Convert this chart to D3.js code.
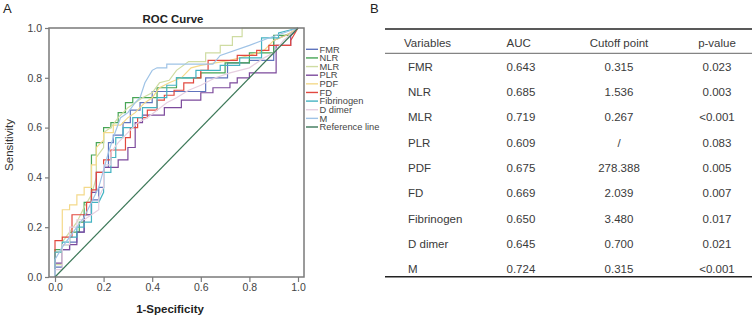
<!DOCTYPE html>
<html>
<head>
<meta charset="utf-8">
<script src="https://cdn.jsdelivr.net/npm/d3@7"></script>
<style>
  html, body { margin: 0; padding: 0; background: #fff; }
  svg { display: block; }
</style>
</head>
<body>
<svg id="roc-figure" width="753" height="318"></svg>
<script>
// ROC curves: [1-specificity, sensitivity] vertices
const fmrRoc = [[0,0],[0,0.04],[0.03,0.04],[0.03,0.11],[0.06,0.11],[0.06,0.14],[0.09,0.14],[0.09,0.18],[0.12,0.18],[0.12,0.25],[0.15,0.25],[0.15,0.31],[0.18,0.31],[0.18,0.36],[0.2,0.36],[0.2,0.44],[0.22,0.44],[0.22,0.54],[0.24,0.54],[0.24,0.57],[0.28,0.57],[0.28,0.62],[0.31,0.62],[0.31,0.67],[0.35,0.67],[0.35,0.7],[0.4,0.7],[0.4,0.745],[0.62,0.745],[0.62,0.8],[0.71,0.8],[0.71,0.86],[0.8,0.86],[0.8,0.87],[0.9,0.87],[0.9,0.95],[0.97,0.98],[1,1]];
const nlrRoc = [[0,0],[0,0.11],[0.03,0.11],[0.03,0.13],[0.06,0.13],[0.06,0.18],[0.1,0.18],[0.1,0.22],[0.12,0.22],[0.12,0.3],[0.15,0.3],[0.15,0.49],[0.17,0.49],[0.17,0.54],[0.2,0.54],[0.2,0.6],[0.23,0.6],[0.23,0.62],[0.26,0.62],[0.26,0.66],[0.29,0.66],[0.29,0.7],[0.32,0.7],[0.32,0.72],[0.42,0.72],[0.42,0.76],[0.5,0.76],[0.5,0.8],[0.6,0.8],[0.6,0.82],[0.7,0.82],[0.7,0.86],[0.8,0.86],[0.8,0.9],[0.9,0.9],[0.9,0.97],[0.97,0.97],[1,1]];
const mlrRoc = [[0,0],[0,0.05],[0.03,0.05],[0.03,0.14],[0.06,0.18],[0.09,0.22],[0.12,0.28],[0.15,0.33],[0.17,0.4],[0.17,0.48],[0.2,0.52],[0.2,0.58],[0.23,0.6],[0.26,0.64],[0.3,0.68],[0.33,0.7],[0.36,0.72],[0.4,0.74],[0.43,0.78],[0.47,0.79],[0.5,0.83],[0.55,0.865],[0.62,0.865],[0.62,0.9],[0.68,0.9],[0.68,0.93],[0.73,0.93],[0.73,0.965],[0.77,0.965],[0.77,1],[1,1]];
const plrRoc = [[0,0],[0,0.056],[0.03,0.056],[0.03,0.11],[0.06,0.11],[0.06,0.13],[0.09,0.13],[0.09,0.18],[0.12,0.18],[0.12,0.25],[0.15,0.25],[0.15,0.34],[0.17,0.34],[0.17,0.42],[0.2,0.42],[0.2,0.44],[0.26,0.44],[0.26,0.47],[0.3,0.47],[0.3,0.52],[0.33,0.52],[0.33,0.62],[0.36,0.62],[0.36,0.65],[0.45,0.65],[0.45,0.68],[0.52,0.68],[0.52,0.71],[0.6,0.71],[0.6,0.74],[0.65,0.74],[0.65,0.76],[0.72,0.76],[0.72,0.78],[0.75,0.78],[0.75,0.8],[0.8,0.8],[0.8,0.82],[0.91,0.82],[0.91,0.93],[0.97,0.93],[0.97,0.97],[1,1]];
const pdfRoc = [[0,0],[0,0.1],[0.03,0.1],[0.03,0.27],[0.06,0.27],[0.06,0.29],[0.09,0.29],[0.09,0.33],[0.12,0.33],[0.12,0.36],[0.15,0.36],[0.15,0.45],[0.17,0.45],[0.17,0.52],[0.2,0.55],[0.2,0.58],[0.24,0.58],[0.24,0.61],[0.27,0.61],[0.3,0.64],[0.33,0.66],[0.37,0.7],[0.4,0.72],[0.43,0.76],[0.47,0.78],[0.52,0.8],[0.56,0.84],[0.6,0.85],[0.66,0.86],[0.72,0.87],[0.8,0.89],[0.86,0.91],[0.9,0.95],[0.95,0.97],[1,1]];
const fdRoc = [[0,0],[0,0.146],[0.03,0.146],[0.03,0.16],[0.07,0.16],[0.07,0.25],[0.13,0.25],[0.13,0.3],[0.15,0.3],[0.15,0.35],[0.17,0.35],[0.17,0.42],[0.2,0.42],[0.2,0.47],[0.23,0.47],[0.23,0.51],[0.29,0.51],[0.29,0.56],[0.31,0.56],[0.31,0.6],[0.34,0.6],[0.34,0.64],[0.38,0.64],[0.38,0.67],[0.42,0.67],[0.42,0.71],[0.45,0.71],[0.45,0.73],[0.49,0.73],[0.49,0.75],[0.53,0.75],[0.53,0.78],[0.57,0.78],[0.57,0.8],[0.6,0.8],[0.6,0.83],[0.63,0.83],[0.63,0.87],[0.75,0.87],[0.75,0.89],[0.83,0.89],[0.83,0.91],[0.88,0.91],[0.88,0.93],[0.97,0.93],[0.97,0.95],[1,1]];
const fibrinogenRoc = [[0,0],[0,0.1],[0.03,0.1],[0.03,0.14],[0.06,0.14],[0.06,0.16],[0.09,0.16],[0.09,0.2],[0.12,0.2],[0.12,0.22],[0.15,0.22],[0.15,0.3],[0.18,0.3],[0.2,0.34],[0.2,0.42],[0.23,0.42],[0.23,0.48],[0.25,0.48],[0.25,0.56],[0.28,0.56],[0.28,0.6],[0.32,0.6],[0.32,0.64],[0.36,0.64],[0.36,0.68],[0.42,0.68],[0.42,0.72],[0.46,0.72],[0.46,0.77],[0.5,0.77],[0.5,0.8],[0.58,0.8],[0.58,0.83],[0.68,0.83],[0.68,0.85],[0.76,0.85],[0.76,0.88],[0.85,0.88],[0.85,0.96],[0.92,0.96],[0.92,0.98],[1,1]];
const dDimerRoc = [[0,0],[0,0.03],[0.03,0.03],[0.03,0.13],[0.06,0.13],[0.06,0.2],[0.09,0.2],[0.09,0.23],[0.12,0.23],[0.15,0.25],[0.18,0.27],[0.18,0.32],[0.2,0.36],[0.2,0.45],[0.23,0.45],[0.23,0.5],[0.26,0.54],[0.3,0.58],[0.34,0.62],[0.38,0.64],[0.42,0.67],[0.46,0.7],[0.5,0.72],[0.55,0.75],[0.6,0.77],[0.66,0.8],[0.72,0.82],[0.8,0.84],[0.86,0.88],[0.9,0.9],[0.94,0.95],[1,1]];
const mRoc = [[0,0],[0,0.07],[0.03,0.12],[0.06,0.16],[0.09,0.2],[0.12,0.24],[0.15,0.3],[0.18,0.36],[0.2,0.43],[0.22,0.5],[0.24,0.56],[0.27,0.64],[0.3,0.66],[0.33,0.7],[0.35,0.72],[0.37,0.78],[0.4,0.83],[0.42,0.84],[0.46,0.84],[0.46,0.855],[0.65,0.855],[0.68,0.89],[0.8,0.93],[0.88,0.96],[1,1]];
const referenceRoc = [[0,0],[1,1]];

const legendNames = ["FMR", "NLR", "MLR", "PLR", "PDF", "FD", "Fibrinogen", "D dimer", "M", "Reference line"];
const axisTicks = [0, 0.2, 0.4, 0.6, 0.8, 1.0];

// Table (panel B)
const tableHeaders = ["Variables", "AUC", "Cutoff point", "p-value"];
const tableVariables = ["FMR", "NLR", "MLR", "PLR", "PDF", "FD", "Fibrinogen", "D dimer", "M"];
const tableAuc = ["0.643", "0.685", "0.719", "0.609", "0.675", "0.669", "0.650", "0.645", "0.724"];
const tableCutoff = ["0.315", "1.536", "0.267", "/", "278.388", "2.039", "3.480", "0.700", "0.315"];
const tablePValue = ["0.023", "0.003", "<0.001", "0.083", "0.005", "0.007", "0.017", "0.021", "<0.001"];

(function() {
  const FONT = "Liberation Sans, Arial, Helvetica, sans-serif";
  const AXIS = "#7a7a7a";
  const TEXT = "#3a3a3a";
  const COLORS = ["#5f74bd", "#47a556", "#cfdca2", "#7c4a9c", "#f4d98a", "#e2483f", "#44b3c2", "#e6cfe0", "#9fc3e6", "#3c7858"];

  const curves = [fmrRoc, nlrRoc, mlrRoc, plrRoc, pdfRoc, fdRoc, fibrinogenRoc, dDimerRoc, mRoc, referenceRoc];

  const svg = d3.select("#roc-figure");
  svg.append("rect").attr("width", 753).attr("height", 318).attr("fill", "#fff");

  // Panel letters
  svg.append("text").attr("x", 3).attr("y", 13).attr("font-family", FONT)
    .attr("font-size", 13).attr("fill", "#222").text("A");
  svg.append("text").attr("x", 370).attr("y", 13).attr("font-family", FONT)
    .attr("font-size", 13).attr("fill", "#222").text("B");

  // --- Panel A: ROC ---
  const frame = { left: 49, right: 304, top: 28, bottom: 277 };
  const x = d3.scaleLinear().domain([0, 1]).range([55, 298]);
  const y = d3.scaleLinear().domain([0, 1]).range([frame.bottom, frame.top]);

  const g = svg.append("g");

  const line = d3.line().x(d => x(d[0])).y(d => y(d[1]));

  g.selectAll("path.roc")
    .data(curves)
    .join("path")
    .attr("class", "roc")
    .attr("fill", "none")
    .attr("stroke", (d, i) => COLORS[i])
    .attr("stroke-width", 1.2)
    .attr("d", line);

  // Frame
  g.append("rect")
    .attr("x", frame.left).attr("y", frame.top)
    .attr("width", frame.right - frame.left)
    .attr("height", frame.bottom - frame.top)
    .attr("fill", "none")
    .attr("stroke", AXIS)
    .attr("stroke-width", 1.5);

  // Axes
  const xAxis = g.append("g")
    .attr("transform", `translate(0,${frame.bottom})`)
    .call(d3.axisBottom(x).tickValues(axisTicks).tickFormat(d3.format(".1f")).tickSize(5).tickPadding(2));
  const yAxis = g.append("g")
    .attr("transform", `translate(${frame.left},0)`)
    .call(d3.axisLeft(y).tickValues(axisTicks).tickFormat(d3.format(".1f")).tickSize(4).tickPadding(3));

  [xAxis, yAxis].forEach(ax => {
    ax.select(".domain").remove();
    ax.selectAll("line").attr("stroke", AXIS).attr("stroke-width", 1.2);
    ax.selectAll("text").attr("font-family", FONT).attr("font-size", 10.5).attr("fill", "#444");
  });

  // Titles
  g.append("text")
    .attr("x", 173).attr("y", 23)
    .attr("text-anchor", "middle")
    .attr("font-family", FONT).attr("font-weight", 700).attr("font-size", 11.4)
    .attr("fill", "#222")
    .text("ROC Curve");

  g.append("text")
    .attr("x", 170).attr("y", 313)
    .attr("text-anchor", "middle")
    .attr("font-family", FONT).attr("font-weight", 700).attr("font-size", 11.5)
    .attr("fill", "#222")
    .text("1-Specificity");

  g.append("text")
    .attr("transform", `translate(13,145) rotate(-90)`)
    .attr("text-anchor", "middle")
    .attr("font-family", FONT).attr("font-size", 11.5)
    .attr("fill", "#333")
    .text("Sensitivity");

  // Legend
  const legendY = d3.scalePoint().domain(legendNames).range([49.3, 127]);
  const legend = g.selectAll("g.legend-item")
    .data(legendNames)
    .join("g")
    .attr("class", "legend-item")
    .attr("transform", d => `translate(0,${legendY(d)})`);

  legend.append("line")
    .attr("x1", 306).attr("x2", 318)
    .attr("stroke", (d, i) => COLORS[i])
    .attr("stroke-width", 1.4);

  legend.append("text")
    .attr("x", 319.5).attr("dy", "0.35em")
    .attr("font-family", FONT).attr("font-size", 9.3)
    .attr("fill", "#444")
    .text(d => d);

  // --- Panel B: table ---
  const t = svg.append("g");
  const rowY = d3.scalePoint().domain(tableVariables).range([66.7, 269.3]);

  t.append("line").attr("x1", 385).attr("x2", 752).attr("y1", 29).attr("y2", 29)
    .attr("stroke", "#222").attr("stroke-width", 1.4);
  t.append("line").attr("x1", 385).attr("x2", 752).attr("y1", 53.3).attr("y2", 53.3)
    .attr("stroke", "#555").attr("stroke-width", 0.9);
  t.append("line").attr("x1", 385).attr("x2", 752).attr("y1", 276.7).attr("y2", 276.7)
    .attr("stroke", "#222").attr("stroke-width", 1.4);

  const cols = [
    { x: 404, anchor: "start" },
    { x: 506.5, anchor: "start" },
    { x: 619, anchor: "middle" },
    { x: 717, anchor: "middle" }
  ];

  t.selectAll("text.head")
    .data(tableHeaders)
    .join("text")
    .attr("class", "head")
    .attr("x", (d, i) => cols[i].x)
    .attr("y", 42.7)
    .attr("dy", "0.35em")
    .attr("text-anchor", (d, i) => cols[i].anchor)
    .attr("font-family", FONT).attr("font-size", 11.5)
    .attr("fill", TEXT)
    .text(d => d);

  const rows = tableVariables.map((v, i) => [v, tableAuc[i], tableCutoff[i], tablePValue[i]]);
  const rowG = t.selectAll("g.row")
    .data(rows)
    .join("g")
    .attr("class", "row")
    .attr("transform", d => `translate(0,${rowY(d[0])})`);

  rowG.selectAll("text")
    .data(d => d)
    .join("text")
    .attr("x", (d, i) => i === 0 ? 408 : cols[i].x)
    .attr("dy", "0.35em")
    .attr("text-anchor", (d, i) => cols[i].anchor)
    .attr("font-family", FONT).attr("font-size", 11.5)
    .attr("fill", TEXT)
    .text(d => d);
})();
</script>
</body>
</html>
